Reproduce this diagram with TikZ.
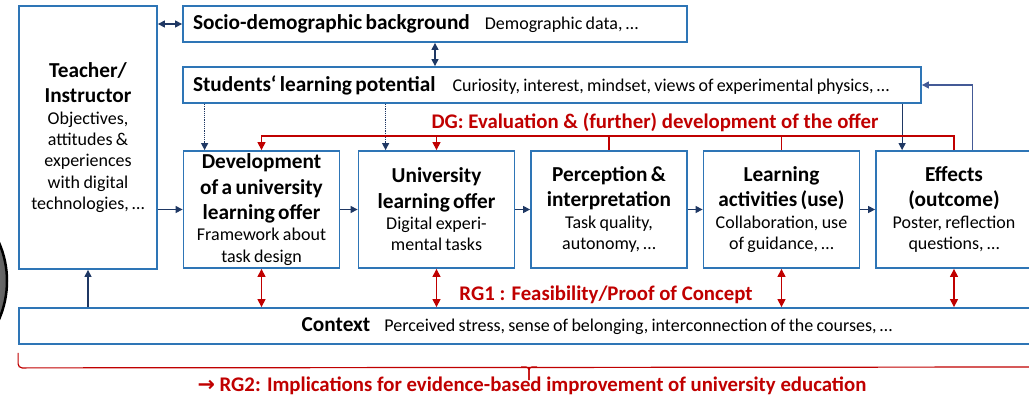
\documentclass[tikz,border=0pt]{standalone}
\usepackage{fontspec}
\setmainfont{Carlito}
\newfontfamily\arrowfont{DejaVu Sans}
\usetikzlibrary{arrows.meta}
\definecolor{boxblue}{RGB}{46,117,182}
\definecolor{navy}{RGB}{31,56,100}
\definecolor{slate}{RGB}{68,90,150}
\definecolor{dgred}{RGB}{192,0,0}
\newcommand{\ttl}{\fontsize{21.3}{25.5}\selectfont\bfseries}
\newcommand{\dsc}{\fontsize{18}{21.3}\selectfont}
\newcommand{\rgt}{\fontsize{20.8}{24}\selectfont\bfseries}

\begin{document}
\begin{tikzpicture}[x=1pt,y=-1pt,
	box/.style={draw=boxblue, line width=1.8pt, fill=white, inner ysep=0pt, align=center},
	rowbox/.style={box, text width=150pt, inner xsep=3pt, minimum height=117pt},
	linebox/.style={box, minimum height=36pt, inner xsep=10pt},
	tip/.style={-{Triangle[length=7pt,width=7pt]}},
	arr/.style={navy, line width=1.2pt, tip},
	darr/.style={navy, line width=1.2pt, {Triangle[length=7pt,width=7pt]}-{Triangle[length=7pt,width=7pt]}},
	dotarr/.style={arr, densely dotted},
	rline/.style={dgred, line width=1.2pt},
	rarr/.style={rline, -{Triangle[length=8pt,width=8pt]}},
	rdarr/.style={rline, {Triangle[length=8pt,width=8pt]}-{Triangle[length=8pt,width=8pt]}},
	rtext/.style={text=dgred, font=\rgt, inner sep=0pt}
	]
	\useasboundingbox (0,0) rectangle (1029,400);
	\clip (0,0) rectangle (1029,400);
	\draw[black, line width=2.5pt, inner color=gray!35, outer color=gray!75!black] (-89,281) circle (96pt);

	\node[box, text width=132pt, inner xsep=3pt, minimum height=263pt] (teacher) at (88,137.5)
		{{\ttl Teacher/\\Instructor\par}{\dsc Objectives,\\attitudes \&\\experiences\\with digital\\technologies, …\par}};
	\node[linebox, text width=484pt, align=left] (socio) at (435,24)
		{{\ttl Socio-demographic background}\hspace{15pt}{\dsc Demographic data, …}};
	\node[linebox, text width=718pt, align=left] (potential) at (552,85)
		{{\ttl Students‘ learning potential}\hspace{17pt}{\dsc Curiosity, interest, mindset, views of experimental physics, …}};
	\node[rowbox] (dev) at (261.5,209.5)
		{{\ttl Development\\of a university\\learning offer\par}{\dsc Framework about\\task design\par}};
	\node[rowbox] (offer) at (436.5,209.5)
		{{\ttl University\\learning offer\par}{\dsc Digital experi-\\mental tasks\par}};
	\node[rowbox] (percep) at (609,209.5)
		{{\ttl Perception \&\\interpretation\par}{\dsc Task quality,\\autonomy, …\par}};
	\node[rowbox] (activ) at (781.5,209.5)
		{{\ttl Learning\\activities (use)\par}{\dsc Collaboration, use\\of guidance, …\par}};
	\node[rowbox] (effects) at (954,209.5)
		{{\ttl Effects\\(outcome)\par}{\dsc Poster, reflection\\questions, …\par}};
	\node[linebox, text width=1136pt] (context) at (597,326)
		{{\ttl Context}\hspace{14pt}{\dsc Perceived stress, sense of belonging, interconnection of the courses, …}};

	\node[rtext] (dglab) at (655,122) {DG: Evaluation \& (further) development of the offer};
	\node[rtext] (rgone) at (606,295) {RG1 : Feasibility/Proof of Concept};
	\node[rtext] (rgtwo) at (532,386) {{\arrowfont →} RG2: Implications for evidence-based improvement of university education};

	\draw[darr] (teacher.east |- socio.west) -- (socio.west);
	\draw[darr] (socio.south) -- (socio.south |- potential.north);
	\coordinate (d1) at ([xshift=22pt]dev.north west);
	\coordinate (o1) at ([xshift=28pt]offer.north west);
	\coordinate (e1) at ([xshift=27pt]effects.north west);
	\coordinate (e2) at ([xshift=97pt]effects.north west);
	\draw[dotarr] (d1 |- potential.south) -- (d1);
	\draw[dotarr] (o1 |- potential.south) -- (o1);
	\draw[arr] (e1 |- potential.south) -- (e1);
	\draw[arr, slate] (e2) |- (potential.east);

	\draw[arr] (teacher.east |- dev.west) -- (dev.west);
	\draw[arr] (dev.east) -- (offer.west);
	\draw[arr] (offer.east) -- (percep.west);
	\draw[arr] (percep.east) -- (activ.west);
	\draw[arr] (activ.east) -- (effects.west);
	\draw[arr] (teacher.south |- context.north) -- (teacher.south);

	\coordinate (dg) at (0,136);
	\draw[rarr] (effects.north) -- (effects.north |- dg) -- (dev.north |- dg) -- (dev.north);
	\draw[rarr] (offer.north |- dg) -- (offer.north);
	\draw[rline] (percep.north) -- (percep.north |- dg);
	\draw[rline] (activ.north) -- (activ.north |- dg);
	\foreach \n in {dev,offer,activ,effects}
		\draw[rdarr] (\n.south) -- (\n.south |- context.north);

	\draw[rline, rounded corners=4pt] ([yshift=-8pt]context.south west) -- ([yshift=-23pt]context.south west) -- (1040,367) -- (1040,352);
	\draw[rline, rounded corners=3pt] (521,367) -- (529,367) -- (529,380);
	\draw[rline, rounded corners=3pt] (537,367) -- (529,367) -- (529,380);
\end{tikzpicture}
\end{document}
